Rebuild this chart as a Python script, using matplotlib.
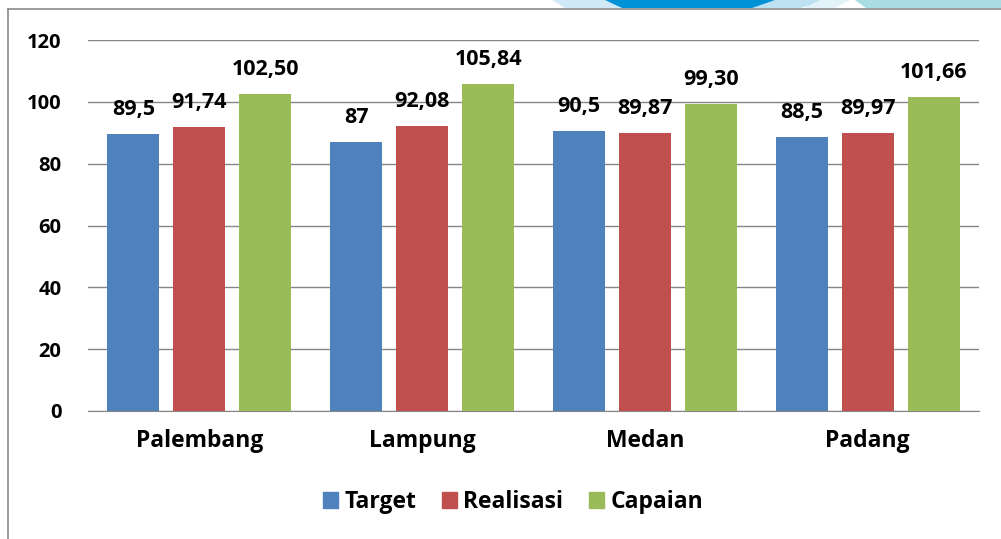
import matplotlib
matplotlib.use('Agg')
import matplotlib.pyplot as plt
from matplotlib.patches import Polygon, Patch
from matplotlib.lines import Line2D
import numpy as np

plt.rcParams['font.family'] = ['Open Sans', 'DejaVu Sans']
plt.rcParams['font.weight'] = 'bold'

# data
cities = ['Palembang', 'Lampung', 'Medan', 'Padang']
target = [89.5, 87, 90.5, 88.5]
realisasi = [91.74, 92.08, 89.87, 89.97]
capaian = [102.50, 105.84, 99.30, 101.66]
series_names = ['Target', 'Realisasi', 'Capaian']
colors = ['#4F81BD', '#C0504D', '#9BBB59']

W, H = 1001, 539
fig = plt.figure(figsize=(W / 100, H / 100), dpi=100)
ax = fig.add_axes([88 / W, 1 - 411 / H, (979 - 88) / W, (411 - 40) / H])

x = np.arange(len(cities))
bw = 52 / 222.75
step = 66 / 222.75
series = [target, realisasi, capaian]
fmts = ['{:g}', '{:.2f}', '{:.2f}']
for i, (vals, col, fmt) in enumerate(zip(series, colors, fmts)):
    pos = x + (i - 1) * step
    bars = ax.bar(pos, vals, width=bw, color=col, zorder=3)
    for b, v in zip(bars, vals):
        ax.annotate(fmt.format(v).replace('.', ','),
                    (b.get_x() + b.get_width() / 2, b.get_height()),
                    xytext=(0, 10), textcoords='offset points',
                    ha='center', va='bottom', fontsize=15.5, fontweight='bold')

ax.set_xlim(-0.5, len(cities) - 0.5)
ax.set_ylim(0, 120)
ax.set_yticks(range(0, 121, 20))
ax.set_xticks(x)
ax.set_xticklabels(cities)
ax.grid(axis='y', color='#868686', linewidth=1, zorder=0)
for s in ['top', 'right', 'left']:
    ax.spines[s].set_visible(False)
ax.spines['bottom'].set_color('#868686')
ax.tick_params(axis='y', length=0, pad=19, labelsize=14.5)
ax.tick_params(axis='x', length=0, pad=13, labelsize=16.5)

# legend
handles = [Patch(color=c) for c in colors]
fig.legend(handles, series_names, loc='center', bbox_to_anchor=(513 / W, 1 - 502 / H),
           ncol=3, frameon=False, fontsize=16.5, handlelength=0.65, handleheight=0.65,
           handletextpad=0.3, columnspacing=1.1)

# outer frame
fig.add_artist(Line2D([8 / W, 8 / W], [0, 1 - 9 / H], color='#8a8a8a', lw=1.2,
                      transform=fig.transFigure))
fig.add_artist(Line2D([8 / W, 1], [1 - 9 / H, 1 - 9 / H], color='#8a8a8a', lw=1.2,
                      transform=fig.transFigure))

# decorative banner at top right
def band(pts, color):
    p = Polygon([(px / W, 1 - py / H) for px, py in pts], closed=True,
                transform=fig.transFigure, color=color, lw=0)
    fig.add_artist(p)

band([(552, 0), (620, 0), (620, 8), (565, 8)], '#cfe9f7')
band([(605, 0), (775, 0), (766, 8), (622, 8)], '#0091d7')
band([(775, 0), (835, 0), (800, 8), (752, 8)], '#bfe2f2')
band([(820, 0), (850, 0), (835, 8), (805, 8)], '#e4f3f9')
band([(855, 0), (1001, 0), (1001, 8), (866, 8)], '#a9dde5')

fig.savefig('out.png', dpi=100)
